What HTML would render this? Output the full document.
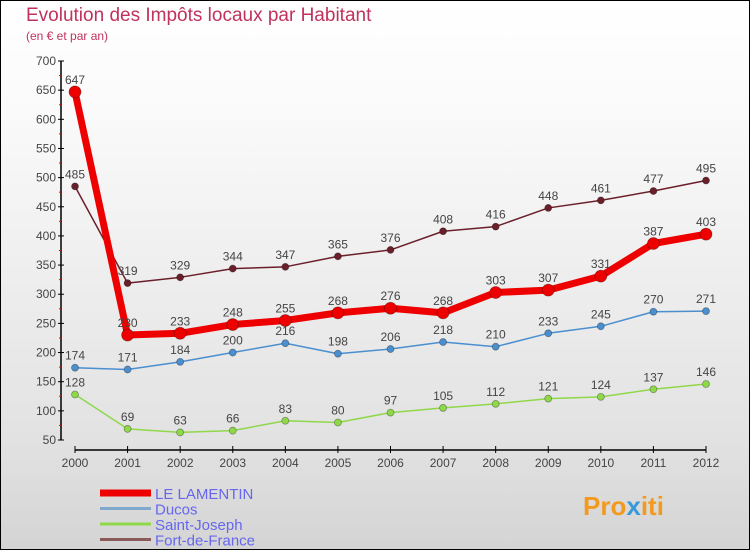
<!DOCTYPE html>
<html><head><meta charset="utf-8"><style>
body{margin:0}
#c{width:750px;height:550px;position:relative;box-sizing:border-box;border:1px solid #000;background:linear-gradient(#fff,#fafafa 20%,#e2e2e2 80%,#d4d4d4);overflow:hidden;font-family:"Liberation Sans",sans-serif}
</style></head><body>
<div id="c">
<svg id="s" width="750" height="550" style="position:absolute;left:-1px;top:-1px">
<text x="26" y="21" font-size="19" fill="#c0325e">Evolution des Impôts locaux par Habitant</text>
<text x="26" y="40" font-size="12" fill="#c0325e">(en € et par an)</text>
</svg>
</div>
<script>
const years=["2000","2001","2002","2003","2004","2005","2006","2007","2008","2009","2010","2011","2012"];
const lamentin=[647,230,233,248,255,268,276,268,303,307,331,387,403];
const ducos=[174,171,184,200,216,198,206,218,210,233,245,270,271];
const stjoseph=[128,69,63,66,83,80,97,105,112,121,124,137,146];
const fdf=[485,319,329,344,347,365,376,408,416,448,461,477,495];
const yTicks=[50,100,150,200,250,300,350,400,450,500,550,600,650,700];
const NS="http://www.w3.org/2000/svg",s=document.getElementById('s');
const X=i=>75+i*(706-75)/12, Y=v=>440-(v-50)*(440-61)/650;
function el(t,a,p){const e=document.createElementNS(NS,t);for(const k in a)e.setAttribute(k,a[k]);(p||s).appendChild(e);return e;}
const ax=el('g',{});


el('line',{x1:61,y1:Y(700),x2:61,y2:Y(50),stroke:'#000','stroke-width':1.5},ax);
el('line',{x1:X(0),y1:450,x2:X(12),y2:450,stroke:'#000','stroke-width':1.5},ax);
yTicks.forEach(v=>{el('line',{x1:58,x2:64,y1:Y(v),y2:Y(v),stroke:'#000'},ax);
 if(v<700)el('line',{x1:59,x2:61,y1:Y(v+25),y2:Y(v+25),stroke:'#e00'},ax);
 const t=el('text',{x:56,y:Y(v)+4,'text-anchor':'end','font-size':12,fill:'#444'},ax);t.textContent=v;
 
 });
years.forEach((y,i)=>{el('line',{x1:X(i),x2:X(i),y1:446,y2:453,stroke:'#000'},ax);
 const t=el('text',{x:X(i),y:467,'text-anchor':'middle','font-size':12,fill:'#444'},ax);t.textContent=y;
 
 });
function series(data,col,w,r,name){const g=el('g',{});
 
 
 el('polyline',{points:data.map((v,i)=>X(i)+','+Y(v)).join(' '),fill:'none',stroke:col,'stroke-width':w,'stroke-linejoin':'round'},g);
 data.forEach((v,i)=>{const c=el('circle',{cx:X(i),cy:Y(v),r:r,fill:col,stroke:'rgba(0,0,0,0.35)','stroke-width':0.8},g);
  
  
  const t=el('text',{x:X(i),y:Y(v)-8,'text-anchor':'middle','font-size':12,fill:'#444'},g);t.textContent=v;
  
  });}
series(stjoseph,'#8fd84a',1.5,3.5,'saint-joseph');
series(ducos,'#4b8fcf',1.5,3.5,'ducos');
series(fdf,'#6b1f2a',1.5,3.5,'fort-de-france');
series(lamentin,'#ee0000',7,6,'le-lamentin');
const lg=[['LE LAMENTIN','#ee0000',7],['Ducos','#7fa8cc',3],['Saint-Joseph','#8fd84a',3],['Fort-de-France','#8a5a5a',3]];
lg.forEach((l,i)=>{const y=493+i*15.5;const g=el('g',{});
 
 
 el('line',{x1:100,x2:151,y1:y,y2:y,stroke:l[1],'stroke-width':l[2]},g);
 const t=el('text',{x:155,y:y+6,'font-size':15,fill:'#6666ee'},g);t.textContent=l[0];});
const p=el('text',{x:583,y:515,'font-size':26,'font-weight':'bold',fill:'#f39a1e'});p.innerHTML='Pro<tspan fill="#3a9ad9">x</tspan>iti';


</script>
</body></html>
